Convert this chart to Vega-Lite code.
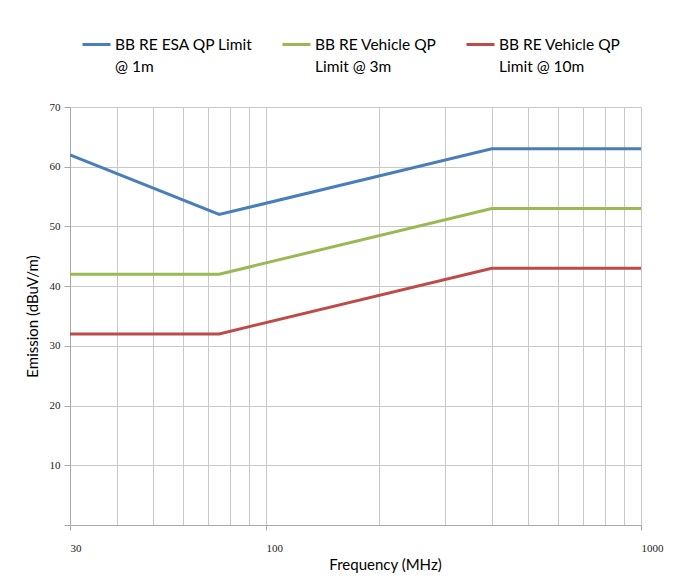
{
  "$schema": "https://vega.github.io/schema/vega-lite/v6.json",
  "autosize": "none",
  "width": 571,
  "height": 418,
  "padding": {"left": 70, "top": 107, "right": 40, "bottom": 63},
  "background": "white",
  "config": {"view": {"stroke": null}},
  "data": {
    "values": [
      {"series": "BB RE ESA QP Limit @ 1m", "freq": 30, "emission": 62},
      {"series": "BB RE ESA QP Limit @ 1m", "freq": 75, "emission": 52},
      {"series": "BB RE ESA QP Limit @ 1m", "freq": 400, "emission": 63},
      {"series": "BB RE ESA QP Limit @ 1m", "freq": 1000, "emission": 63},
      {"series": "BB RE Vehicle QP Limit @ 3m", "freq": 30, "emission": 42},
      {"series": "BB RE Vehicle QP Limit @ 3m", "freq": 75, "emission": 42},
      {"series": "BB RE Vehicle QP Limit @ 3m", "freq": 400, "emission": 53},
      {"series": "BB RE Vehicle QP Limit @ 3m", "freq": 1000, "emission": 53},
      {"series": "BB RE Vehicle QP Limit @ 10m", "freq": 30, "emission": 32},
      {"series": "BB RE Vehicle QP Limit @ 10m", "freq": 75, "emission": 32},
      {"series": "BB RE Vehicle QP Limit @ 10m", "freq": 400, "emission": 43},
      {"series": "BB RE Vehicle QP Limit @ 10m", "freq": 1000, "emission": 43}
    ]
  },
  "mark": {"type": "line", "strokeWidth": 3, "clip": true},
  "encoding": {
    "x": {
      "field": "freq",
      "type": "quantitative",
      "scale": {"type": "log", "domain": [30, 1000], "nice": false},
      "axis": {
        "title": "Frequency (MHz)",
        "titleFont": "Lato",
        "titleFontSize": 15,
        "titleFontWeight": "normal",
        "titleColor": "#000000",
        "titleX": 315,
        "titleY": 32,
        "values": [30, 40, 50, 60, 70, 80, 90, 100, 200, 300, 400, 500, 600, 700, 800, 900, 1000],
        "labelExpr": "(datum.value == 30 || datum.value == 100 || datum.value == 1000) ? datum.label : ''",
        "format": "d",
        "labelFont": "Liberation Serif",
        "labelFontSize": 11,
        "labelColor": "#222222",
        "labelAlign": "left",
        "labelPadding": 12,
        "labelFlush": false,
        "labelOverlap": false,
        "grid": true,
        "gridColor": "#c8c8c8",
        "gridWidth": 1,
        "domainColor": "#aaaaaa",
        "tickColor": "#aaaaaa",
        "tickSize": 5,
        "tickOpacity": {"condition": {"test": "datum.value == 30 || datum.value == 100 || datum.value == 1000", "value": 1}, "value": 0}
      }
    },
    "y": {
      "field": "emission",
      "type": "quantitative",
      "scale": {"domain": [0, 70], "nice": false},
      "axis": {
        "title": "Emission (dBuV/m)",
        "titleFont": "Lato",
        "titleFontSize": 15,
        "titleFontWeight": "normal",
        "titleColor": "#000000",
        "titlePadding": 9,
        "values": [0, 10, 20, 30, 40, 50, 60, 70],
        "labelExpr": "datum.value == 0 ? '' : datum.label",
        "labelFont": "Liberation Serif",
        "labelFontSize": 11,
        "labelColor": "#222222",
        "labelPadding": 4,
        "grid": true,
        "gridColor": "#c8c8c8",
        "gridWidth": 1,
        "domainColor": "#aaaaaa",
        "tickColor": "#aaaaaa",
        "tickSize": 6
      }
    },
    "color": {
      "field": "series",
      "type": "nominal",
      "sort": ["BB RE ESA QP Limit @ 1m", "BB RE Vehicle QP Limit @ 3m", "BB RE Vehicle QP Limit @ 10m"],
      "scale": {
        "domain": ["BB RE ESA QP Limit @ 1m", "BB RE Vehicle QP Limit @ 3m", "BB RE Vehicle QP Limit @ 10m"],
        "range": ["#4a7ebb", "#98b954", "#be4b48"]
      },
      "legend": {
        "title": null,
        "orient": "none",
        "legendX": 11,
        "legendY": -78,
        "direction": "horizontal",
        "columnPadding": 23,
        "symbolType": "stroke",
        "symbolSize": 784,
        "symbolStrokeWidth": 3,
        "labelFont": "Lato",
        "labelFontSize": 15.5,
        "labelColor": "#000000",
        "labelOffset": 3,
        "labelLimit": 300,
        "encode": {"labels": {"update": {"lineHeight": {"value": 22}}}},
        "labelExpr": "datum.label == 'BB RE ESA QP Limit @ 1m' ? ['BB RE ESA QP Limit', '@ 1m'] : datum.label == 'BB RE Vehicle QP Limit @ 3m' ? ['BB RE Vehicle QP', 'Limit @ 3m'] : ['BB RE Vehicle QP', 'Limit @ 10m']"
      }
    }
  }
}
